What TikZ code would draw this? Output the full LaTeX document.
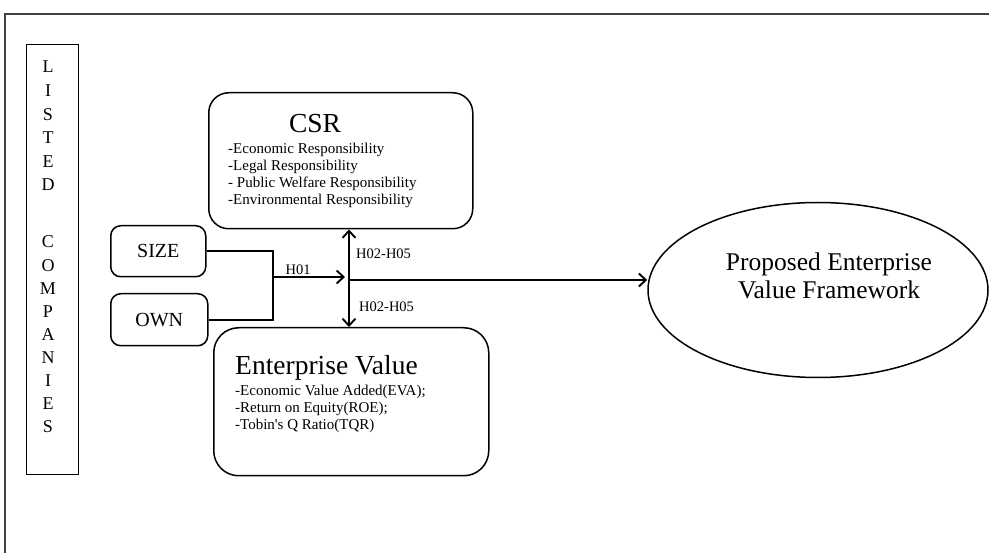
\documentclass[tikz,border=0pt]{standalone}
\usepackage{fontspec}
\setmainfont{Liberation Serif}
\usetikzlibrary{shapes.geometric,arrows.meta,positioning}

\tikzset{
  rbox/.style={draw, line width=1.5pt, rounded corners=#1, anchor=north west, inner sep=0pt},
  link/.style={line width=1.9pt},
  title/.style={font=\fontsize{27.5}{30}\selectfont, inner sep=0pt},
  item/.style={font=\fontsize{15}{17}\selectfont, inner sep=0pt, anchor=base west},
  lab/.style={font=\fontsize{14.5}{16}\selectfont, inner sep=1pt},
  letter/.style={font=\fontsize{18}{20}\selectfont, inner sep=0pt, anchor=base},
  small/.style={font=\fontsize{20}{22}\selectfont}
}

\begin{document}
\begin{tikzpicture}[x=1pt,y=-1pt,>={Straight Barb[length=7pt,width=13pt]}]
\useasboundingbox (0,0) rectangle (989,553);
% outer frame
\draw[line width=2.2pt, black!75] (5,553) -- (5,14) -- (989,14);

% listed companies
\node[draw, line width=0.9pt, minimum width=52pt, minimum height=430pt, anchor=north west, inner sep=0pt] (listed) at (26,44) {};
\foreach \c [count=\n] in {L,I,S,T,E,D}
  \node[letter] (w\n) at (48,73+23.6*\n-23.6) {\c};
\foreach \c [count=\n] in {C,O,M,P,A,N,I,E,S}
  \node[letter] (c\n) at (48,248+23.1*\n-23.1) {\c};

% csr
\node[rbox=20pt, minimum width=264pt, minimum height=136pt] (csr) at (208,92) {};
\node[title, anchor=base] (csrtitle) at (315,133) {CSR};
\foreach \t [count=\n] in {{-Economic Responsibility},{-Legal Responsibility},{- Public Welfare Responsibility},{-Environmental Responsibility}}
  \node[item] (csr\n) at (228,137+17*\n) {\t};

% enterprise value
\node[rbox=25pt, minimum width=275pt, minimum height=148pt] (ev) at (213,327) {};
\node[title, anchor=base west] (evtitle) at (235,375) {Enterprise Value};
\foreach \t [count=\n] in {{-Economic Value Added(EVA);},{-Return on Equity(ROE);},{-Tobin\textquotesingle s Q Ratio(TQR)}}
  \node[item] (ev\n) at (235,379+17*\n) {\t};

% inputs
\node[rbox=10pt, minimum width=95pt, minimum height=51pt, small] (size) at (110,225) {SIZE};
\node[rbox=10pt, minimum width=97pt, minimum height=52pt, small] (own) at (110,293) {OWN};

% framework
\node[draw, ellipse, line width=1.5pt, minimum width=340pt, minimum height=175pt, inner sep=0pt] (pevf) at (818,290) {};
\node[align=center, font=\fontsize{25.5}{27.7}\selectfont] (pevftxt) at (829,276) {Proposed Enterprise\\Value Framework};

% connectors
\coordinate (j) at (273,277);
\coordinate (h) at (345,277);
\coordinate (v) at (349,280);
\draw[link] (size.east) -| (j) |- (own.east);
\draw[link,->] (j) -- node[lab, above, pos=0.35] (h01) {H01} (h);
\draw[link,<->] (v |- csr.south) -- (v |- ev.north);
\draw[link,->] (v) -- (v -| pevf.west);
\node[lab, anchor=west] (hup) at (355,254) {H02-H05};
\node[lab, anchor=west] (hdn) at (358,307) {H02-H05};
\end{tikzpicture}
\end{document}
